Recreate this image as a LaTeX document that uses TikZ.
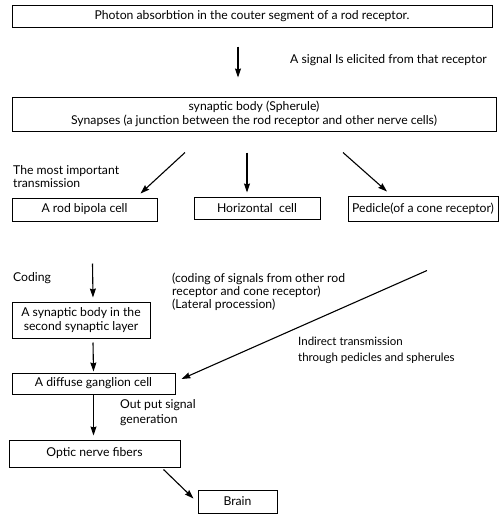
\documentclass[tikz,border=0pt]{standalone}
\usepackage{fontspec}
\setmainfont{Lato}
\usepackage{tikz}
\usetikzlibrary{arrows.meta, positioning, calc}
\tikzset{
	box/.style ={rectangle, draw=black, line width=1pt, inner sep=1pt, align=center, font=\fontsize{12.2}{13.5}\selectfont},
	note/.style={anchor=west, align=left, inner sep=0pt, font=\fontsize{12.2}{13}\selectfont},
	arr/.style ={-{Stealth[length=9pt, width=6pt, inset=1pt]}, line width=1.1pt},
}

\begin{document}
\begin{tikzpicture}[x=1pt, y=-1pt]
	\useasboundingbox (0,0) rectangle (500,515);
	% boxes
	\node[box, minimum width=480pt, minimum height=22pt] (photon) at (252,16) {Photon absorbtion in the couter segment of a rod receptor.};
	\node[box, minimum width=484pt, minimum height=34pt] (sphr) at (254,114) {synaptic body (Spherule)\\Synapses (a junction between the rod receptor and other nerve cells)};
	\node[box, minimum width=145pt, minimum height=23pt] (bip) at (84.5,209.5) {A rod bipola cell};
	\node[box, minimum width=126pt, minimum height=22pt] (hor) at (257,208) {Horizontal\ \ cell};
	\node[box, minimum width=150pt, minimum height=25pt] (ped) at (423,208.5) {Pedicle(of a cone receptor)};
	\node[box, minimum width=138pt, minimum height=36pt] (syn2) at (81,320) {A synaptic body in the\\second synaptic layer};
	\node[box, minimum width=163pt, minimum height=21pt] (gang) at (93.5,383.5) {A diffuse ganglion cell};
	\node[box, minimum width=171pt, minimum height=27pt] (optic) at (94.5,453.5) {Optic nerve fibers};
	\node[box, minimum width=79pt, minimum height=23pt] (brain) at (237.5,501.5) {Brain};
	% side notes
	\node[note] (elicit) at (290,60) {A signal Is elicited from that receptor};
	\node[note] (import) at (13,176.5) {The most important\\transmission};
	\node[note] (coding) at (13,278) {Coding};
	\node[note] (lateral) at (172,292) {(coding of signals from other rod\\receptor and cone receptor)\\(Lateral procession)};
	\node[note, font=\fontsize{11.5}{16}\selectfont] (indirect) at (298,350) {Indirect transmission\\through pedicles and spherules};
	\node[note, font=\fontsize{12.2}{15}\selectfont] (output) at (120,412.5) {Out put signal\\generation};
	% arrows
	\draw[arr] ($(photon.south)+(-14,19)$) -- ($(sphr.north)+(-16,-19)$);
	\draw[arr] ($(sphr.south)+(-69,21)$) -- ($(bip.north east)+(-17,-4)$);
	\draw[arr] ($(sphr.south)+(-7,21)$) -- ($(hor.north)+(-10,-4)$);
	\draw[arr] ($(sphr.south)+(89,21)$) -- ($(ped.north)+(-36,-4)$);
	\draw[arr] ($(bip.south)+(8,42)$) -- ($(syn2.north)+(12,-4)$);
	\draw[arr] ($(syn2.south)+(12,4)$) -- ($(gang.north)+(0,-1)$);
	\draw[arr] ($(ped.south)+(4,49)$) -- ($(gang.east)+(6,-4.5)$);
	\draw[arr] (gang.south) -- ($(optic.north)+(-1,-4)$);
	\draw[arr] ($(optic.south east)+(-17,2)$) -- ($(brain.north west)+(-4,9)$);
\end{tikzpicture}
\end{document}
